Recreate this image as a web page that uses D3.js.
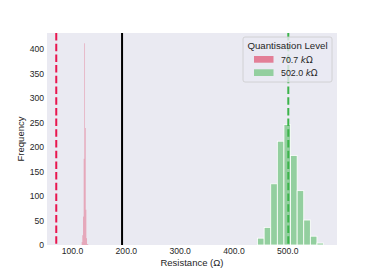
<!DOCTYPE html>
<html>
<head>
<meta charset="utf-8">
<script src="https://cdn.jsdelivr.net/npm/d3@7"></script>
<style>
  body { margin: 0; background: #fff; }
  svg text { font-family: "Liberation Sans", Arial, sans-serif; fill: #262626; }
</style>
</head>
<body>
<div class="chart"></div>
<script>
// histogram data (1000 samples per level)
var lowEdges = [118.0, 119.23, 120.46, 121.69, 122.92, 124.15, 125.38, 126.61, 127.84, 129.07, 130.3];
var lowCounts = [6, 20, 58, 176, 412, 239, 72, 14, 2, 1];
var highEdges = [444.8, 457.07, 469.34, 481.61, 493.88, 506.15, 518.42, 530.69, 542.96, 555.23, 567.5];
var highCounts = [14, 36, 125, 212, 246, 183, 111, 51, 18, 4];

var levels = ["70.7", "502.0"];
var levelValues = [70.7, 502.0];
var levelColors = ["#dc143c", "#3cb44b"];
var threshold = 193;

var xTicks = [100, 200, 300, 400, 500];
var yTicks = [0, 50, 100, 150, 200, 250, 300, 350, 400];

var w = 374, h = 280;
var m = {left: 47, right: 37, top: 33, bottom: 35};
var iw = w - m.left - m.right, ih = h - m.top - m.bottom;

var svg = d3.select(".chart").append("svg")
  .attr("width", w).attr("height", h);

var x = d3.scaleLinear().domain([53.5, 592.5]).range([0, iw]);
var y = d3.scaleLinear().domain([0, 433]).range([ih, 0]);

var g = svg.append("g").attr("transform", "translate(" + m.left + "," + m.top + ")");

g.append("rect").attr("width", iw).attr("height", ih).attr("fill", "#eaeaf2");

function bins(edges, counts) {
  return counts.map(function(c, i) { return {x0: edges[i], x1: edges[i + 1], n: c}; });
}

var sets = [bins(lowEdges, lowCounts), bins(highEdges, highCounts)];

sets.forEach(function(s, k) {
  g.selectAll(".bar" + k)
    .data(s)
    .enter()
    .append("rect")
    .attr("class", "bar" + k)
    .attr("x", function(d) { return x(d.x0); })
    .attr("width", function(d) { return x(d.x1) - x(d.x0); })
    .attr("y", function(d) { return y(d.n); })
    .attr("height", function(d) { return y(0) - y(d.n); })
    .attr("fill", levelColors[k])
    .attr("fill-opacity", k == 0 ? 0.32 : 0.5)
    .attr("stroke", k == 0 ? "none" : "#fff")
    .attr("stroke-width", 0.8);
});

// level lines
g.selectAll(".lvl")
  .data(levelValues)
  .enter()
  .append("line")
  .attr("class", "lvl")
  .attr("x1", function(d) { return x(d); })
  .attr("x2", function(d) { return x(d); })
  .attr("y1", 0).attr("y2", ih)
  .attr("stroke", function(d, i) { return i == 0 ? "#e8174f" : levelColors[i]; })
  .attr("stroke-width", 2)
  .attr("stroke-dasharray", "7.5,3.2");

g.append("line")
  .attr("x1", x(threshold)).attr("x2", x(threshold))
  .attr("y1", 0).attr("y2", ih)
  .attr("stroke", "#000").attr("stroke-width", 2);

// axes
var xAxis = g.append("g").attr("transform", "translate(0," + ih + ")")
  .call(d3.axisBottom(x).tickValues(xTicks).tickFormat(d3.format(".1f")).tickSize(0).tickPadding(3));
var yAxis = g.append("g")
  .call(d3.axisLeft(y).tickValues(yTicks).tickSize(0).tickPadding(3));
[xAxis, yAxis].forEach(function(a) {
  a.select(".domain").remove();
  a.selectAll("text").attr("font-size", "8.6px").attr("fill", "#262626")
    .style("font-family", "Liberation Sans, Arial, sans-serif");
});

svg.append("text")
  .attr("x", m.left + iw / 2).attr("y", 266)
  .attr("text-anchor", "middle").attr("font-size", "9.5px")
  .text("Resistance (Ω)");

svg.append("text")
  .attr("transform", "translate(24," + (m.top + ih / 2) + ") rotate(-90)")
  .attr("text-anchor", "middle").attr("font-size", "9.5px")
  .text("Frequency");

// legend
var lg = svg.append("g").attr("transform", "translate(243,37)");
lg.append("rect")
  .attr("width", 89).attr("height", 45).attr("rx", 2)
  .attr("fill", "#eaeaf2").attr("fill-opacity", 0.8)
  .attr("stroke", "#cccccc").attr("stroke-width", 0.8);
lg.append("text").attr("x", 44.5).attr("y", 11.5)
  .attr("text-anchor", "middle").attr("font-size", "9.7px")
  .text("Quantisation Level");

var items = lg.selectAll(".item")
  .data(levels)
  .enter()
  .append("g")
  .attr("class", "item")
  .attr("transform", function(d, i) { return "translate(11," + (19 + i * 13.3) + ")"; });
items.append("rect")
  .attr("width", 19.5).attr("height", 6.7)
  .attr("fill", function(d, i) { return levelColors[i]; })
  .attr("fill-opacity", 0.5);
var t = items.append("text").attr("x", 27).attr("y", 6.5).attr("font-size", "8.9px");
t.append("tspan").text(function(d) { return d + " "; });
t.append("tspan").attr("font-style", "italic").style("font-family", "DejaVu Sans, sans-serif").text("k");
t.append("tspan").style("font-family", "DejaVu Sans, sans-serif").text("Ω");
</script>
</body>
</html>
